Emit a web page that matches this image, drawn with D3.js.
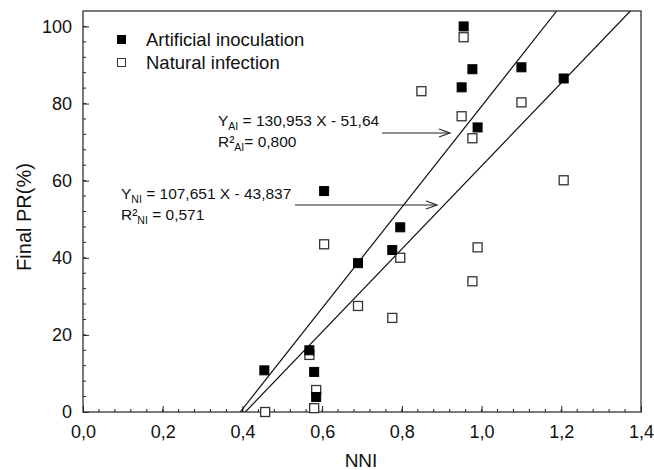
<!DOCTYPE html>
<html lang="en">
<head>
  <meta charset="utf-8">
  <title>Final PR vs NNI</title>
  <style>
    body { margin: 0; padding: 0; background: #fff; }
    svg text { font-family: 'Liberation Sans', Arial, sans-serif; fill: #111; }
  </style>
</head>
<body>
  <div id="chart"></div>
  <script src="https://d3js.org/d3.v7.min.js"></script>
  <script>
    // data
    var aiNNI = [0.455, 0.568, 0.58, 0.585, 0.605, 0.69, 0.776, 0.796, 0.95, 0.955, 0.977, 0.99, 1.10, 1.206];
    var aiPR  = [10.8, 16, 10.4, 3.9, 57.3, 38.6, 42, 47.9, 84.2, 100, 88.9, 73.8, 89.4, 86.5];
    var niNNI = [0.457, 0.568, 0.58, 0.585, 0.605, 0.69, 0.776, 0.796, 0.849, 0.95, 0.955, 0.977, 0.99, 0.977, 1.10, 1.206];
    var niPR  = [0, 14.8, 1, 5.7, 43.5, 27.5, 24.4, 40, 83.2, 76.7, 97.2, 71, 42.7, 33.9, 80.3, 60.1];
    var fitAI = { slope: 130.953, intercept: -51.64 };
    var fitNI = { slope: 107.651, intercept: -43.837 };
    var xTicks = [0, 0.2, 0.4, 0.6, 0.8, 1.0, 1.2, 1.4];
    var yTicks = [0, 20, 40, 60, 80, 100];

    var W = 654, H = 470;
    var margin = { top: 11, right: 13, bottom: 58, left: 83 };
    var width = W - margin.left - margin.right,
        height = H - margin.top - margin.bottom;

    var svg = d3.select("#chart").append("svg")
      .attr("width", W).attr("height", H);
    var g = svg.append("g")
      .attr("transform", "translate(" + margin.left + "," + margin.top + ")");

    var x = d3.scaleLinear().domain([0, 1.4]).range([0, width]);
    var y = d3.scaleLinear().domain([0, 104]).range([height, 0]);

    var fmt = function (d) { return d3.format(".1f")(d).replace(".", ","); };

    // frame
    g.append("rect").attr("width", width).attr("height", height)
      .attr("fill", "none").attr("stroke", "#222").attr("stroke-width", 1.2);

    // minor ticks
    var xMinor = d3.range(0.04, 1.39, 0.04);
    g.append("g").selectAll("line").data(xMinor).enter().append("line")
      .attr("x1", d => x(d)).attr("x2", d => x(d))
      .attr("y1", height).attr("y2", height - 3)
      .attr("stroke", "#222");
    var yMinor = d3.range(4, 101, 4);
    g.append("g").selectAll("line").data(yMinor).enter().append("line")
      .attr("y1", d => y(d)).attr("y2", d => y(d))
      .attr("x1", 0).attr("x2", 3)
      .attr("stroke", "#222");

    // axes with inward ticks
    var xAxis = g.append("g").attr("transform", "translate(0," + height + ")")
      .call(d3.axisBottom(x).tickValues(xTicks).tickFormat(fmt).tickSizeInner(-6).tickSizeOuter(0).tickPadding(13));
    var yAxis = g.append("g")
      .call(d3.axisLeft(y).tickValues(yTicks).tickFormat(d3.format("d")).tickSizeInner(-6).tickSizeOuter(0).tickPadding(11));
    [xAxis, yAxis].forEach(function (a) {
      a.select(".domain").remove();
      a.selectAll("line").attr("stroke", "#222");
      a.selectAll("text").style("font-size", "18px").attr("fill", "#111");
    });

    // axis titles
    svg.append("text").attr("x", 361).attr("y", 467)
      .attr("text-anchor", "middle").style("font-size", "19px").text("NNI");
    svg.append("text")
      .attr("transform", "translate(31,217) rotate(-90)")
      .attr("text-anchor", "middle").style("font-size", "20px").text("Final PR(%)");

    // clip for regression lines
    svg.append("clipPath").attr("id", "plotclip").append("rect")
      .attr("width", width).attr("height", height);

    function fitLine(f) {
      var x0 = -f.intercept / f.slope;
      var x1 = (104 - f.intercept) / f.slope;
      return [[x0, 0], [x1, 104]];
    }
    var line = d3.line().x(d => x(d[0])).y(d => y(d[1]));
    [fitAI, fitNI].forEach(function (f) {
      g.append("path").datum(fitLine(f)).attr("d", line)
        .attr("clip-path", "url(#plotclip)")
        .attr("fill", "none").attr("stroke", "#111").attr("stroke-width", 1.2);
    });

    // points
    var s = 9;
    g.append("g").selectAll("rect").data(d3.range(niNNI.length)).enter().append("rect")
      .attr("x", i => x(niNNI[i]) - s / 2).attr("y", i => y(niPR[i]) - s / 2)
      .attr("width", s).attr("height", s)
      .attr("fill", "#fff").attr("stroke", "#333").attr("stroke-width", 1.3);
    g.append("g").selectAll("rect").data(d3.range(aiNNI.length)).enter().append("rect")
      .attr("x", i => x(aiNNI[i]) - s / 2).attr("y", i => y(aiPR[i]) - s / 2)
      .attr("width", s).attr("height", s)
      .attr("fill", "#000").attr("stroke", "#000");

    // legend
    var legend = svg.append("g");
    legend.append("rect").attr("x", 117).attr("y", 35).attr("width", 9).attr("height", 9).attr("fill", "#000");
    legend.append("rect").attr("x", 117.5).attr("y", 58.5).attr("width", 8).attr("height", 8)
      .attr("fill", "#fff").attr("stroke", "#333");
    legend.append("text").attr("x", 146).attr("y", 46).style("font-size", "18.5px").text("Artificial inoculation");
    legend.append("text").attr("x", 146).attr("y", 69).style("font-size", "18.5px").text("Natural infection");

    // annotations
    function eq(xp, yp, sub, rest, r2sub, r2rest) {
      var t = svg.append("text").attr("x", xp).attr("y", yp).style("font-size", "15.5px");
      t.append("tspan").text("Y");
      t.append("tspan").attr("dy", 4).style("font-size", "10.5px").text(sub);
      t.append("tspan").attr("dy", -4).text(rest);
      var r = svg.append("text").attr("x", xp).attr("y", yp + 21).style("font-size", "15.5px");
      r.append("tspan").text("R²");
      r.append("tspan").attr("dy", 4).style("font-size", "10.5px").text(r2sub);
      r.append("tspan").attr("dy", -4).text(r2rest);
    }
    eq(218, 126, "AI", " = 130,953 X - 51,64", "AI", "= 0,800");
    eq(121, 199, "NI", " = 107,651 X - 43,837", "NI", " = 0,571");

    function arrow(x1, x2, yy) {
      svg.append("line").attr("x1", x1).attr("x2", x2).attr("y1", yy).attr("y2", yy)
        .attr("stroke", "#222").attr("stroke-width", 1.1);
      svg.append("path").attr("d", "M" + (x2 - 11) + "," + (yy - 4) + "L" + x2 + "," + yy + "L" + (x2 - 11) + "," + (yy + 4))
        .attr("fill", "none").attr("stroke", "#222").attr("stroke-width", 1.1);
    }
    arrow(382, 450, 133);
    arrow(295, 437, 205);
  </script>
</body>
</html>
